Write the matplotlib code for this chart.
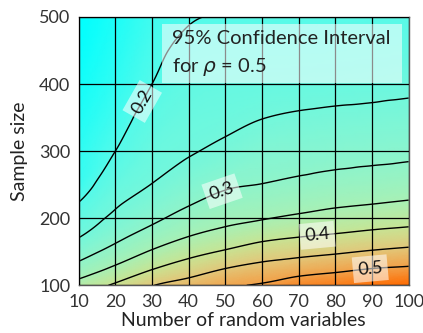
import numpy as np
import matplotlib
matplotlib.use("Agg")
import matplotlib.pyplot as plt
import matplotlib.tri as mtri
from matplotlib.colors import LinearSegmentedColormap
from matplotlib.patches import Rectangle

plt.rcParams['font.family'] = ['Lato', 'DejaVu Sans']

# Number of random variables (columns) and sample sizes (rows)
n_vars = [10, 20, 30, 40, 50, 60, 70, 80, 90, 100]
sample_sizes = [100, 125, 150, 175, 200, 250, 300, 350, 400, 450, 500]

# CI width, one row per sample size
ci_width = [
    [0.370, 0.407, 0.448, 0.470, 0.492, 0.505, 0.525, 0.535, 0.546, 0.554],
    [0.318, 0.359, 0.397, 0.425, 0.450, 0.466, 0.479, 0.489, 0.500, 0.506],
    [0.279, 0.317, 0.355, 0.384, 0.405, 0.425, 0.435, 0.444, 0.454, 0.462],
    [0.245, 0.285, 0.318, 0.347, 0.366, 0.384, 0.395, 0.403, 0.412, 0.419],
    [0.222, 0.260, 0.290, 0.317, 0.336, 0.347, 0.358, 0.368, 0.375, 0.382],
    [0.178, 0.228, 0.251, 0.275, 0.294, 0.301, 0.309, 0.316, 0.321, 0.327],
    [0.165, 0.200, 0.234, 0.246, 0.260, 0.275, 0.280, 0.284, 0.287, 0.290],
    [0.150, 0.182, 0.217, 0.234, 0.240, 0.249, 0.255, 0.259, 0.262, 0.265],
    [0.138, 0.168, 0.200, 0.222, 0.228, 0.230, 0.232, 0.234, 0.236, 0.240],
    [0.128, 0.157, 0.190, 0.209, 0.215, 0.216, 0.217, 0.218, 0.220, 0.222],
    [0.120, 0.148, 0.180, 0.197, 0.202, 0.204, 0.205, 0.206, 0.207, 0.208],
]

contour_levels = [0.20, 0.25, 0.30, 0.35, 0.40, 0.45, 0.50]
labelled_levels = [0.2, 0.3, 0.4, 0.5]
label_spots = [(26.7, 376), (49, 242), (75, 179), (89.5, 127)]

x_ticks = [10, 20, 30, 40, 50, 60, 70, 80, 90, 100]
y_ticks = [100, 200, 300, 400, 500]

vmin, vmax = 0.12, 0.555
anchor_vals = [0.12, 0.20, 0.28, 0.35, 0.40, 0.45, 0.50, 0.555]
anchor_cols = ['#00FFFF', '#55FAEA', '#85F5D2', '#A8F0B5', '#C8E494',
               '#E2C87A', '#F2A24A', '#FF6A00']
cmap = LinearSegmentedColormap.from_list(
    'ci', [((v - vmin) / (vmax - vmin), c) for v, c in zip(anchor_vals, anchor_cols)])

fig = plt.figure(figsize=(4.23, 3.33), dpi=100)
ax = fig.add_axes([0.186, 0.1432, 0.780, 0.806])

X, Y = np.meshgrid(n_vars, sample_sizes)
Z = np.array(ci_width)

# consistent two-triangle split of every grid cell, then library cubic smoothing
nr, nc = Z.shape
tris = []
for i in range(nr - 1):
    for j in range(nc - 1):
        a = i * nc + j
        b = a + 1
        c = a + nc
        d = c + 1
        tris.append([a, b, d])
        tris.append([a, d, c])
tri = mtri.Triangulation(X.ravel().astype(float), Y.ravel().astype(float), np.array(tris))
interp = mtri.CubicTriInterpolator(tri, Z.ravel(), kind='geom')
refiner = mtri.UniformTriRefiner(tri)
tri_r, z_r = refiner.refine_field(Z.ravel(), triinterpolator=interp, subdiv=4)

ax.tripcolor(tri_r, z_r, shading='gouraud', cmap=cmap, vmin=vmin, vmax=vmax, zorder=0)
cs = ax.tricontour(tri_r, z_r, levels=contour_levels, colors='black', linewidths=1.0, zorder=2)
cs_lab = ax.tricontour(tri_r, z_r, levels=labelled_levels, colors='black', linewidths=0.0,
                       alpha=0.0, zorder=2)

ax.set_xlim(10, 100)
ax.set_ylim(100, 500)
ax.set_xticks(x_ticks)
ax.set_yticks(y_ticks)
ax.grid(True, color='black', linewidth=0.9)
ax.set_axisbelow(False)
ax.tick_params(length=0, labelsize=13, colors='#333333', pad=6)
for s in ax.spines.values():
    s.set_color('#555555')
    s.set_linewidth(1.0)

ax.set_xlabel('Number of random variables', fontsize=14, color='#222222', labelpad=2)
ax.set_ylabel('Sample size', fontsize=14, color='#222222', labelpad=8)

labels = ax.clabel(cs_lab, inline=False, fontsize=13,
                   fmt=lambda v: f'{v:.1f}', manual=label_spots, colors='#111111')
for t in labels:
    t.set_alpha(1.0)
    t.set_color('#111111')
    t.set_bbox(dict(facecolor='white', alpha=0.55, edgecolor='none', pad=3.5))
    t.set_zorder(5)

ax.add_patch(Rectangle((0.2515, 0.754), 0.7275, 0.22, transform=ax.transAxes,
                       facecolor='white', alpha=0.55, edgecolor='none', zorder=4))
ax.text(0.283, 0.918, '95% Confidence Interval', transform=ax.transAxes,
        fontsize=14.5, color='#222222', va='center', ha='left', zorder=6)
ax.text(0.283, 0.815, r'for $\rho$ = 0.5', transform=ax.transAxes,
        fontsize=14.5, color='#222222', va='center', ha='left', zorder=6)

fig.savefig('out.png', dpi=100)
